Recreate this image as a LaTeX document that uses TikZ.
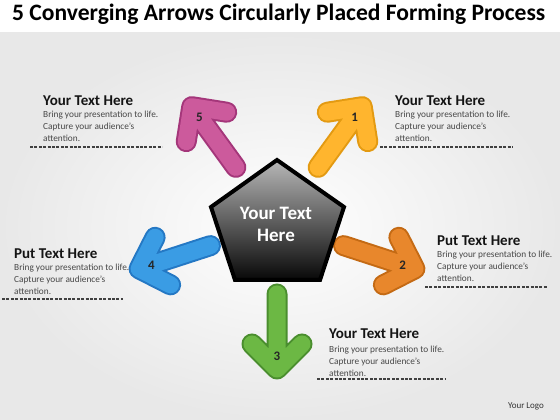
\documentclass[tikz,border=0pt]{standalone}
\usepackage{fontspec}
\setmainfont{Carlito}
\usepackage{graphicx}
\definecolor{aoneF}{HTML}{FFB52E}\definecolor{aoneB}{HTML}{E39A12}
\definecolor{atwoF}{HTML}{E8872C}\definecolor{atwoB}{HTML}{C46A14}
\definecolor{athrF}{HTML}{6CB844}\definecolor{athrB}{HTML}{4A8E2E}
\definecolor{afouF}{HTML}{3A9CE4}\definecolor{afouB}{HTML}{2478C4}
\definecolor{afivF}{HTML}{CC5A9C}\definecolor{afivB}{HTML}{A4367A}
\newcommand\myarrow[5]{%
\begin{scope}[shift={(277,196)}, rotate=#1]
\draw[line width=21pt, #3, line cap=round, line join=round] (70,0) -- (145,0) (120,25) -- (145,0) -- (120,-25);
\draw[line width=17pt, #2, line cap=round, line join=round] (70,0) -- (145,0) (120,25) -- (145,0) -- (120,-25);
\node (#5) [font=\bfseries\fontsize{13}{14}\selectfont, text=black!85] at (132,0) {#4};
\end{scope}}
\tikzset{
 head/.style={font=\bfseries\fontsize{15}{16}\selectfont, anchor=base west, inner sep=0pt, text=black!92},
 body/.style={font=\fontsize{9.3}{11.8}\selectfont, align=left, anchor=north west, inner sep=0pt, text=black!72},
 rule/.style={draw=black!75, line width=1.1pt, dash pattern=on 3pt off 1.4pt}
}
\begin{document}
\begin{tikzpicture}[x=1pt,y=1pt]
\useasboundingbox (0,0) rectangle (560,420);
\fill[white] (0,0) rectangle (560,420);
\shade[inner color=white, outer color=black!9] (0,0) rectangle (560,387);
\node (title) [anchor=base west, inner sep=0pt] at (12,399) {\resizebox{533pt}{!}{\bfseries 5 Converging Arrows Circularly Placed Forming Process}};
% arrows
\myarrow{54}{aoneF}{aoneB}{1}{n1}
\myarrow{-18}{atwoF}{atwoB}{2}{n2}
\myarrow{-90}{athrF}{athrB}{3}{n3}
\myarrow{198}{afouF}{afouB}{4}{n4}
\myarrow{126}{afivF}{afivB}{5}{n5}
% pentagon
\shade[top color=black!28, middle color=black!62, bottom color=black!97] (277,260) -- (344,213) -- (320,140) -- (235,140) -- (211,213) -- cycle;
\draw[line width=4pt, line join=miter] (277,260) -- (344,213) -- (320,140) -- (235,140) -- (211,213) -- cycle;
\node (centre) [align=center, font=\bfseries\fontsize{19}{22}\selectfont, text=white] at (276,196) {Your Text\\Here};
% text blocks
\node (h1) [head] at (43,314) {Your Text Here};
\node (b1) [body] at (43,309) {Bring your presentation to life.\\Capture your audience’s\\attention.};
\draw[rule] (30,273) -- (162,273);
\node (h2) [head] at (395,314) {Your Text Here};
\node (b2) [body] at (395,309) {Bring your presentation to life.\\Capture your audience’s\\attention.};
\draw[rule] (380,273) -- (513,273);
\node (h3) [head] at (14,161) {Put Text Here};
\node (b3) [body] at (14,156) {Bring your presentation to life.\\Capture your audience’s\\attention.};
\draw[rule] (2,121) -- (123,121);
\node (h4) [head] at (437,174) {Put Text Here};
\node (b4) [body] at (437,169) {Bring your presentation to life.\\Capture your audience’s\\attention.};
\draw[rule] (425,133) -- (548,133);
\node (h5) [head] at (329,81) {Your Text Here};
\node (b5) [body] at (329,74) {Bring your presentation to life.\\Capture your audience’s\\attention.};
\draw[rule] (317,41) -- (446,41);
\node (logo) [font=\fontsize{9}{10}\selectfont, text=black!80] at (526,14) {Your Logo};
\end{tikzpicture}
\end{document}
